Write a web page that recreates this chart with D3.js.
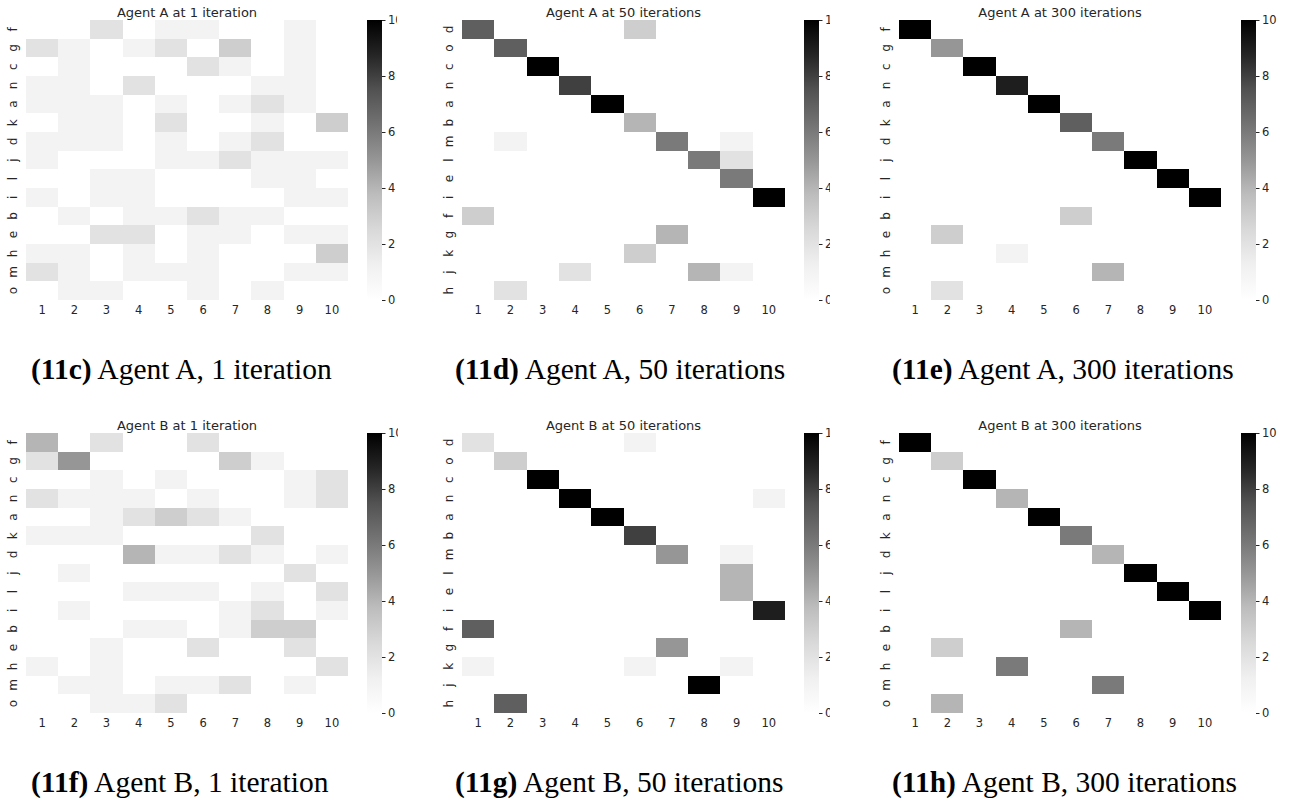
<!DOCTYPE html>
<html>
<head>
<meta charset="utf-8">
<script src="https://cdn.jsdelivr.net/npm/d3@7"></script>
<style>
body { margin: 0; background: #fff; }
svg { display: block; }
</style>
</head>
<body>
<svg id="chart" width="1290" height="802"></svg>
<script>
// column tick labels (same for every panel)
const colLabels = ["1", "2", "3", "4", "5", "6", "7", "8", "9", "10"];

// row orders used by the panels
const rowsMain = ["f", "g", "c", "n", "a", "k", "d", "j", "l", "i", "b", "e", "h", "m", "o"];
const rowsMid = ["d", "o", "c", "n", "a", "b", "m", "l", "e", "i", "f", "g", "k", "j", "h"];

// colour bar ticks
const cbTicks = [0, 2, 4, 6, 8, 10];

// counts, one row per row label
const agentA1 = [
	[0, 0, 2, 0, 1, 1, 0, 0, 1, 0],
	[2, 1, 0, 1, 2, 0, 3, 0, 1, 0],
	[0, 1, 0, 0, 0, 2, 1, 0, 1, 0],
	[1, 1, 0, 2, 0, 0, 0, 1, 1, 0],
	[1, 1, 1, 0, 1, 0, 1, 2, 1, 0],
	[0, 1, 1, 0, 2, 0, 0, 1, 0, 3],
	[1, 1, 1, 0, 1, 0, 1, 2, 0, 0],
	[1, 0, 0, 0, 1, 1, 2, 1, 1, 1],
	[0, 0, 1, 1, 0, 0, 0, 1, 1, 0],
	[1, 0, 1, 1, 0, 0, 0, 0, 1, 1],
	[0, 1, 0, 1, 1, 2, 1, 1, 0, 0],
	[0, 0, 2, 2, 0, 1, 1, 0, 1, 1],
	[1, 1, 0, 1, 0, 1, 0, 0, 0, 3],
	[2, 1, 0, 1, 1, 1, 0, 0, 1, 1],
	[0, 1, 1, 0, 0, 1, 0, 1, 0, 0]
];

const agentA50 = [
	[7, 0, 0, 0, 0, 3, 0, 0, 0, 0],
	[0, 7, 0, 0, 0, 0, 0, 0, 0, 0],
	[0, 0, 10, 0, 0, 0, 0, 0, 0, 0],
	[0, 0, 0, 8, 0, 0, 0, 0, 0, 0],
	[0, 0, 0, 0, 10, 0, 0, 0, 0, 0],
	[0, 0, 0, 0, 0, 4, 0, 0, 0, 0],
	[0, 1, 0, 0, 0, 0, 6, 0, 1, 0],
	[0, 0, 0, 0, 0, 0, 0, 6, 2, 0],
	[0, 0, 0, 0, 0, 0, 0, 0, 6, 0],
	[0, 0, 0, 0, 0, 0, 0, 0, 0, 10],
	[3, 0, 0, 0, 0, 0, 0, 0, 0, 0],
	[0, 0, 0, 0, 0, 0, 4, 0, 0, 0],
	[0, 0, 0, 0, 0, 3, 0, 0, 0, 0],
	[0, 0, 0, 2, 0, 0, 0, 4, 1, 0],
	[0, 2, 0, 0, 0, 0, 0, 0, 0, 0]
];

const agentA300 = [
	[10, 0, 0, 0, 0, 0, 0, 0, 0, 0],
	[0, 5, 0, 0, 0, 0, 0, 0, 0, 0],
	[0, 0, 10, 0, 0, 0, 0, 0, 0, 0],
	[0, 0, 0, 9, 0, 0, 0, 0, 0, 0],
	[0, 0, 0, 0, 10, 0, 0, 0, 0, 0],
	[0, 0, 0, 0, 0, 7, 0, 0, 0, 0],
	[0, 0, 0, 0, 0, 0, 6, 0, 0, 0],
	[0, 0, 0, 0, 0, 0, 0, 10, 0, 0],
	[0, 0, 0, 0, 0, 0, 0, 0, 10, 0],
	[0, 0, 0, 0, 0, 0, 0, 0, 0, 10],
	[0, 0, 0, 0, 0, 3, 0, 0, 0, 0],
	[0, 3, 0, 0, 0, 0, 0, 0, 0, 0],
	[0, 0, 0, 1, 0, 0, 0, 0, 0, 0],
	[0, 0, 0, 0, 0, 0, 4, 0, 0, 0],
	[0, 2, 0, 0, 0, 0, 0, 0, 0, 0]
];

const agentB1 = [
	[4, 0, 2, 0, 0, 2, 0, 0, 0, 0],
	[2, 5, 0, 0, 0, 0, 3, 1, 0, 0],
	[0, 0, 1, 0, 1, 0, 0, 0, 1, 2],
	[2, 1, 1, 1, 0, 1, 0, 0, 1, 2],
	[0, 0, 1, 2, 3, 2, 1, 0, 0, 0],
	[1, 1, 1, 0, 0, 0, 0, 2, 0, 0],
	[0, 0, 0, 4, 1, 1, 2, 1, 0, 1],
	[0, 1, 0, 0, 0, 0, 0, 0, 2, 0],
	[0, 0, 0, 1, 1, 1, 0, 1, 0, 2],
	[0, 1, 0, 0, 0, 0, 1, 2, 0, 1],
	[0, 0, 0, 1, 1, 0, 1, 3, 3, 0],
	[0, 0, 1, 0, 0, 2, 0, 0, 2, 0],
	[1, 0, 1, 0, 0, 0, 0, 0, 0, 2],
	[0, 1, 1, 0, 1, 1, 2, 0, 1, 0],
	[0, 0, 1, 1, 2, 0, 0, 0, 0, 0]
];

const agentB50 = [
	[2, 0, 0, 0, 0, 1, 0, 0, 0, 0],
	[0, 3, 0, 0, 0, 0, 0, 0, 0, 0],
	[0, 0, 10, 0, 0, 0, 0, 0, 0, 0],
	[0, 0, 0, 10, 0, 0, 0, 0, 0, 1],
	[0, 0, 0, 0, 10, 0, 0, 0, 0, 0],
	[0, 0, 0, 0, 0, 8, 0, 0, 0, 0],
	[0, 0, 0, 0, 0, 0, 5, 0, 1, 0],
	[0, 0, 0, 0, 0, 0, 0, 0, 4, 0],
	[0, 0, 0, 0, 0, 0, 0, 0, 4, 0],
	[0, 0, 0, 0, 0, 0, 0, 0, 0, 9],
	[7, 0, 0, 0, 0, 0, 0, 0, 0, 0],
	[0, 0, 0, 0, 0, 0, 5, 0, 0, 0],
	[1, 0, 0, 0, 0, 1, 0, 0, 1, 0],
	[0, 0, 0, 0, 0, 0, 0, 10, 0, 0],
	[0, 7, 0, 0, 0, 0, 0, 0, 0, 0]
];

const agentB300 = [
	[10, 0, 0, 0, 0, 0, 0, 0, 0, 0],
	[0, 3, 0, 0, 0, 0, 0, 0, 0, 0],
	[0, 0, 10, 0, 0, 0, 0, 0, 0, 0],
	[0, 0, 0, 4, 0, 0, 0, 0, 0, 0],
	[0, 0, 0, 0, 10, 0, 0, 0, 0, 0],
	[0, 0, 0, 0, 0, 6, 0, 0, 0, 0],
	[0, 0, 0, 0, 0, 0, 4, 0, 0, 0],
	[0, 0, 0, 0, 0, 0, 0, 10, 0, 0],
	[0, 0, 0, 0, 0, 0, 0, 0, 10, 0],
	[0, 0, 0, 0, 0, 0, 0, 0, 0, 10],
	[0, 0, 0, 0, 0, 4, 0, 0, 0, 0],
	[0, 3, 0, 0, 0, 0, 0, 0, 0, 0],
	[0, 0, 0, 6, 0, 0, 0, 0, 0, 0],
	[0, 0, 0, 0, 0, 0, 6, 0, 0, 0],
	[0, 4, 0, 0, 0, 0, 0, 0, 0, 0]
];

const titles = ["Agent A at 1 iteration", "Agent A at 50 iterations", "Agent A at 300 iterations",
	"Agent B at 1 iteration", "Agent B at 50 iterations", "Agent B at 300 iterations"];
const tags = ["(11c)", "(11d)", "(11e)", "(11f)", "(11g)", "(11h)"];
const captions = [" Agent A, 1 iteration", " Agent A, 50 iterations", " Agent A, 300 iterations",
	" Agent B, 1 iteration", " Agent B, 50 iterations", " Agent B, 300 iterations"];

// layout of the six panels
const panels = [
	{values: agentA1, rows: rowsMain, left: 26, right: 348, top: 20, cb: 367, clip: 397, capX: 31},
	{values: agentA50, rows: rowsMid, left: 462, right: 785, top: 20, cb: 804, clip: 830, capX: 455},
	{values: agentA300, rows: rowsMain, left: 899, right: 1221, top: 20, cb: 1241, clip: 1290, capX: 892},
	{values: agentB1, rows: rowsMain, left: 26, right: 348, top: 433, cb: 367, clip: 398, capX: 31},
	{values: agentB50, rows: rowsMid, left: 462, right: 785, top: 433, cb: 804, clip: 830, capX: 455},
	{values: agentB300, rows: rowsMain, left: 899, right: 1221, top: 433, cb: 1241, clip: 1290, capX: 892}
];

const mapH = 280;
const textColor = "#262626";
const font = "DejaVu Sans, sans-serif";

// matplotlib "Greys" colormap, 0..10
const greys = d3.scaleLinear()
	.domain(d3.range(9).map(i => i * 10 / 8))
	.range(["#ffffff", "#f0f0f0", "#d9d9d9", "#bdbdbd", "#969696", "#737373", "#525252", "#252525", "#000000"])
	.clamp(true);

const svg = d3.select("#chart");
const defs = svg.append("defs");

const grad = defs.append("linearGradient")
	.attr("id", "greys")
	.attr("x1", 0).attr("y1", 1).attr("x2", 0).attr("y2", 0);
grad.selectAll("stop")
	.data(greys.domain())
	.join("stop")
	.attr("offset", d => d / 10)
	.attr("stop-color", d => greys(d));

panels.forEach((p, i) => {
	const top = p.top, bottom = p.top + mapH;

	defs.append("clipPath").attr("id", `clip${i}`)
		.append("rect")
		.attr("x", p.left - 40).attr("y", top - 30)
		.attr("width", p.clip - p.left + 40).attr("height", mapH + 60);

	const g = svg.append("g").attr("clip-path", `url(#clip${i})`);

	const x = d3.scaleBand().domain(colLabels).range([p.left, p.right]);
	const y = d3.scaleBand().domain(p.rows).range([top, bottom]);

	const cells = p.values.flatMap((row, r) => row.map((v, c) => ({row: p.rows[r], col: colLabels[c], v})));

	g.append("g")
		.attr("shape-rendering", "crispEdges")
		.selectAll("rect")
		.data(cells)
		.join("rect")
		.attr("x", d => x(d.col))
		.attr("y", d => y(d.row))
		.attr("width", x.bandwidth())
		.attr("height", y.bandwidth())
		.attr("fill", d => greys(d.v));

	// x axis
	g.append("g")
		.attr("transform", `translate(0,${bottom})`)
		.call(d3.axisBottom(x).tickSize(0).tickPadding(6))
		.call(a => a.select(".domain").remove())
		.selectAll("text")
		.attr("fill", textColor)
		.style("font-family", font)
		.style("font-size", "11.5px");

	// y axis, labels turned on their side
	g.append("g")
		.attr("transform", `translate(${p.left},0)`)
		.call(d3.axisLeft(y).tickSize(0))
		.call(a => a.select(".domain").remove())
		.selectAll("text")
		.attr("x", 0)
		.attr("dy", "0.35em")
		.attr("text-anchor", "middle")
		.attr("transform", "translate(-13,0) rotate(-90)")
		.attr("fill", textColor)
		.style("font-family", font)
		.style("font-size", "12px");

	// title
	g.append("text")
		.attr("x", (p.left + p.right) / 2)
		.attr("y", top - 3)
		.attr("text-anchor", "middle")
		.attr("fill", textColor)
		.style("font-family", font)
		.style("font-size", "13px")
		.text(titles[i]);

	// colour bar
	g.append("rect")
		.attr("x", p.cb).attr("y", top)
		.attr("width", 15).attr("height", mapH)
		.attr("fill", "url(#greys)");

	const cy = d3.scaleLinear().domain([0, 10]).range([bottom, top]);
	g.append("g")
		.attr("transform", `translate(${p.cb + 15},0)`)
		.call(d3.axisRight(cy).tickValues(cbTicks).tickSize(3.5).tickPadding(2.5))
		.call(a => a.select(".domain").remove())
		.call(a => a.selectAll("line").attr("stroke", textColor))
		.selectAll("text")
		.attr("fill", textColor)
		.style("font-family", font)
		.style("font-size", "11.5px");

	// caption under the panel
	const cap = svg.append("text")
		.attr("x", p.capX)
		.attr("y", top + 359)
		.attr("fill", "#000")
		.style("font-family", "Liberation Serif, Times New Roman, serif")
		.style("font-size", "29.5px");
	cap.append("tspan").attr("font-weight", "bold").text(tags[i]);
	cap.append("tspan").text(captions[i]);
});
</script>
</body>
</html>
